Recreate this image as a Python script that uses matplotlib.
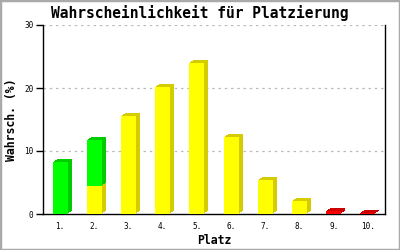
import matplotlib
matplotlib.use("Agg")
import matplotlib.pyplot as plt
import matplotlib.transforms as mtransforms
import numpy as np

categories = ["1.", "2.", "3.", "4.", "5.", "6.", "7.", "8.", "9.", "10."]
yellow_vals = [0, 4.5, 15.6, 20.2, 24.0, 12.3, 5.4, 2.1, 0, 0]
green_vals = [8.3, 7.2, 0, 0, 0, 0, 0, 0, 0, 0]
red_vals = [0, 0, 0, 0, 0, 0, 0, 0, 0.5, 0.15]
yticks = [0, 10, 20, 30]

series = [
    (yellow_vals, "#FFFF00", "#D4CC00"),
    (green_vals, "#00FF00", "#00CC00"),
    (red_vals, "#FF0000", "#CC0000"),
]

mono = "DejaVu Sans Mono"
fig = plt.figure(figsize=(4, 2.5), dpi=100)
ax = fig.add_axes([43/400, 36/250, 342/400, 189/250])

x = np.arange(len(categories))
width = 0.44
shifts = [(1, 1), (2, 2), (3, 2), (4, 3)]

# grid
for yv in yticks[1:]:
    ax.axhline(yv, color="#BBBBBB", lw=0.9, dashes=(2, 3), zorder=1)

bottoms = np.zeros(len(categories))
fronts = []
for vals, fc, sc in series:
    v = np.array(vals, dtype=float)
    mask = v > 0
    for dx, dy in shifts:
        tr = mtransforms.offset_copy(ax.transData, fig=fig, x=dx, y=dy, units='dots')
        ax.bar(x[mask], v[mask], width, bottom=bottoms[mask], color=sc,
               transform=tr, zorder=2, linewidth=0)
    fronts.append((x[mask], v[mask], bottoms[mask].copy(), fc))
    bottoms = bottoms + v
for xs, vs, bs, fc in fronts:
    ax.bar(xs, vs, width, bottom=bs, color=fc, zorder=3, linewidth=0)

ax.set_xlim(-0.5, 9.5)
ax.set_ylim(0, 30)
ax.set_yticks(yticks)
ax.set_yticklabels([str(t) for t in yticks], fontsize=5.5, family=mono)
ax.set_xticks(x)
ax.set_xticklabels(categories, fontsize=5.5, family=mono)
ax.tick_params(axis='x', length=0, pad=6)
ax.tick_params(axis='y', length=5, width=1, pad=2)
ax.spines['top'].set_visible(False)
for s in ['left', 'bottom', 'right']:
    ax.spines[s].set_linewidth(1)
    ax.spines[s].set_color('black')

fig.text(0.5, 1 - 13/250, "Wahrscheinlichkeit für Platzierung", family=mono,
         fontweight='bold', fontsize=10.5, ha='center', va='center')
ax.set_ylabel("Wahrsch. (%)", family=mono, fontweight='bold', fontsize=8.3, labelpad=4)
ax.set_xlabel("Platz", family=mono, fontweight='bold', fontsize=8.3, labelpad=2)

# figure border
fig.patches.append(plt.Rectangle((0, 0), 1, 1, transform=fig.transFigure,
                                 fill=False, edgecolor="#AAAAAA", linewidth=2.5))

fig.savefig("out.png", dpi=100)
